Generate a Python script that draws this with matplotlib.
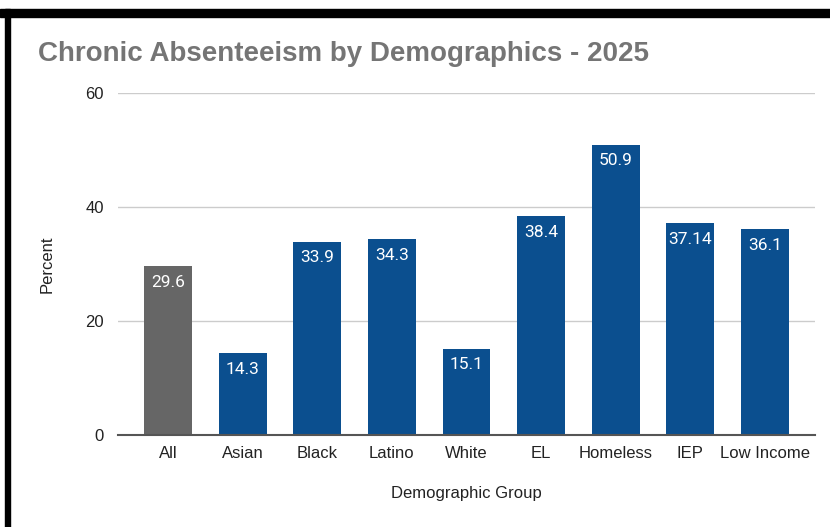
import matplotlib.pyplot as plt
from matplotlib.patches import Rectangle

# Data
groups = ["All", "Asian", "Black", "Latino", "White", "EL", "Homeless", "IEP", "Low Income"]
values = [29.6, 14.3, 33.9, 34.3, 15.1, 38.4, 50.9, 37.14, 36.1]
labels = ["29.6", "14.3", "33.9", "34.3", "15.1", "38.4", "50.9", "37.14", "36.1"]
colors = ["#666666"] + ["#0b4f8f"] * 8

W, H = 830, 527
fig = plt.figure(figsize=(W / 100, H / 100), dpi=100)
fig.patch.set_facecolor("white")

# axes placed in pixel coords
left, right, top, bottom = 118, 815, 93, 435
ax = fig.add_axes([left / W, 1 - bottom / H, (right - left) / W, (bottom - top) / H])

x = list(range(len(groups)))
ax.bar(x, values, width=0.64, color=colors, zorder=3)
for i, v in enumerate(values):
    ax.text(i, v - 1.5, labels[i], ha="center", va="top", color="white",
            fontsize=12.5, family="Roboto", zorder=4)

ax.set_xlim(-0.67, 8.67)
ax.set_ylim(0, 60)
ax.set_yticks([0, 20, 40, 60])
ax.set_xticks(x)
ax.set_xticklabels(groups, family="Liberation Sans", fontsize=12, color="#222222")
for t in ax.get_yticklabels():
    t.set_family("Liberation Sans")
    t.set_fontsize(12)
    t.set_color("#222222")
ax.tick_params(length=0, pad=8)
ax.tick_params(axis="y", pad=10)
ax.grid(axis="y", color="#cccccc", linewidth=1, zorder=0)
for s in ["top", "right", "left"]:
    ax.spines[s].set_visible(False)
ax.spines["bottom"].set_color("#555555")
ax.spines["bottom"].set_linewidth(1.5)
ax.spines["bottom"].set_zorder(5)

ax.set_xlabel("Demographic Group", family="Liberation Sans", fontsize=12, color="#222222", labelpad=18)
ax.set_ylabel("Percent", family="Liberation Sans", fontsize=12, color="#222222", labelpad=22)

fig.text(38 / W, 1 - 54 / H, "Chronic Absenteeism by Demographics - 2025",
         family="Liberation Sans", fontweight="bold", fontsize=20, color="#757575",
         ha="left", va="center")

# black frame (top and left)
fig.patches.append(Rectangle((0, 1 - 17 / H), 1, 8 / H, transform=fig.transFigure,
                             color="black", zorder=10))
fig.patches.append(Rectangle((5 / W, 0), 5 / W, 1 - 9 / H, transform=fig.transFigure,
                             color="black", zorder=10))

fig.savefig("out.png", dpi=100)
